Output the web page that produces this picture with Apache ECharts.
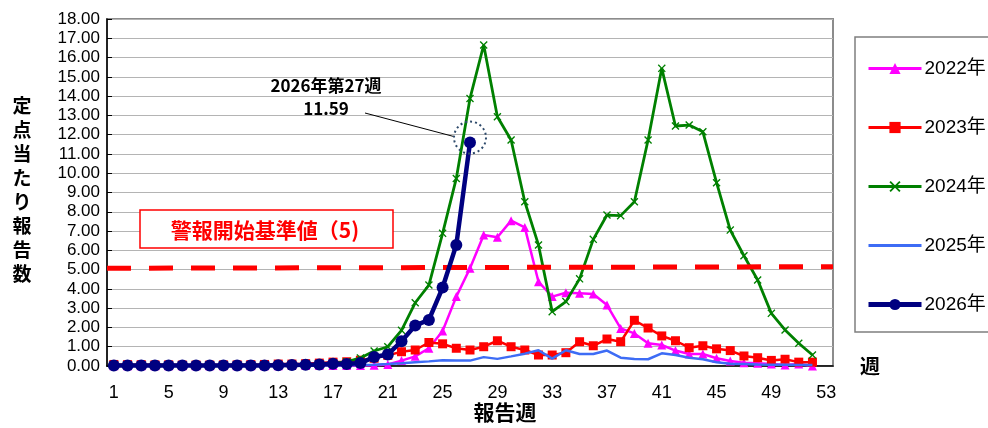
<!DOCTYPE html>
<html><head><meta charset="utf-8">
<script src="https://cdn.jsdelivr.net/npm/echarts@6/dist/echarts.min.js"></script>
<style>html,body{margin:0;padding:0;background:#fff}#c{width:988px;height:428px}</style>
</head><body><div id="c"></div>
<script>
// Categories: report weeks 1..53
const weeks = Array.from({length: 53}, (_, i) => String(i + 1));
const seriesNames = ['2022年', '2023年', '2024年', '2025年', '2026年'];

const data2022 = [0.01,0.01,0.01,0.01,0.01,0.01,0.01,0.01,0.01,0.01,0.01,0.01,0.01,0.02,0.02,0.02,0.02,0.03,0.03,0.04,
  0.08,0.28,0.5,0.92,1.82,3.6,5.07,6.8,6.68,7.54,7.19,4.37,3.6,3.8,3.77,3.73,3.16,1.95,1.69,1.18,1.09,0.8,0.62,0.62,0.4,0.26,0.17,0.14,0.1,0.05,0.1,0.0];
const data2023 = [0.08,0.07,0.07,0.06,0.06,0.05,0.05,0.05,0.06,0.06,0.07,0.08,0.1,0.1,0.12,0.15,
  0.2,0.22,0.3,0.4,0.55,0.74,0.83,1.22,1.15,0.92,0.83,1.0,1.31,1.0,0.83,0.57,0.57,0.69,1.26,1.05,1.4,1.26,2.37,1.97,1.56,1.31,0.95,1.05,0.89,0.8,0.52,0.43,0.29,0.35,0.2,0.2];
const data2024 = [0.05,0.05,0.04,0.04,0.04,0.03,0.03,0.03,0.03,0.04,0.04,0.05,0.06,0.07,0.08,0.1,0.14,0.22,
  0.42,0.78,1.0,1.85,3.28,4.2,6.88,9.73,13.88,16.65,12.93,11.72,8.52,6.28,2.82,3.34,4.52,6.57,7.83,7.8,8.52,11.72,15.44,12.45,12.5,12.15,9.51,7.05,5.72,4.46,2.73,1.87,1.18,0.57];
const data2025 = [0.03,0.03,0.03,0.02,0.02,0.02,0.02,0.02,0.02,0.02,0.02,0.02,0.02,0.02,0.03,0.03,0.03,0.04,0.05,
  0.07,0.1,0.14,0.2,0.24,0.3,0.28,0.28,0.46,0.37,0.5,0.64,0.82,0.38,0.82,0.62,0.62,0.8,0.43,0.36,0.35,0.66,0.57,0.43,0.35,0.19,0.12,0.1,0.08,0.07,0.06,0.05,0.05];
const data2026 = [0.03,0.03,0.03,0.03,0.03,0.03,0.03,0.03,0.03,0.03,0.03,0.03,0.04,0.05,0.06,0.08,0.12,0.1,0.15,
  0.47,0.6,1.28,2.1,2.39,4.07,6.28,11.59];
// Alert threshold line (spans plot edge to edge on a hidden 0..1 axis)
const thresholdLine = [[0, 5.07], [1, 5.15]];
const yTicksMax = 18;

const NUM = "'Liberation Sans Narrow','Arial Narrow','Liberation Sans',sans-serif";
const JP = "'Noto Sans CJK JP',sans-serif";
const XPATH = 'path://M0,1.2 L1.2,0 L5,3.8 L8.8,0 L10,1.2 L6.2,5 L10,8.8 L8.8,10 L5,6.2 L1.2,10 L0,8.8 L3.8,5 Z';
const colors = ['#ff00ff', '#ff0000', '#008000', '#3d6cf5', '#000080'];
const widths = [3, 3, 3, 3, 5];

function line(name, data, color, symbol, size, width, z) {
  return {
    type: 'line', name, data, symbol, symbolSize: size, showAllSymbol: true,
    lineStyle: {color, width}, itemStyle: {color}, z, clip: false,
    emphasis: {disabled: true}, silent: true
  };
}

const chart = echarts.init(document.getElementById('c'));
chart.setOption({
  animation: false,
  grid: {left: 107, right: 155, top: 19, bottom: 62, show: true, borderColor: '#8c8c8c', borderWidth: 2},
  xAxis: [
    {type: 'category', data: weeks, boundaryGap: true,
     axisLine: {lineStyle: {color: '#000', width: 1.5}},
     axisTick: {inside: true, interval: 0, length: 5, lineStyle: {color: '#000'}},
     axisLabel: {interval: 3, fontSize: 18, color: '#000', fontFamily: NUM, margin: 18},
     splitLine: {show: false}},
    {type: 'value', min: 0, max: 1, show: false}
  ],
  yAxis: {type: 'value', min: 0, max: yTicksMax, interval: 1,
    axisLine: {show: true, lineStyle: {color: '#000', width: 1.5}},
    axisTick: {show: true, inside: true, length: 5, lineStyle: {color: '#000'}},
    axisLabel: {formatter: v => v.toFixed(2), fontSize: 17, color: '#000', fontFamily: NUM, margin: 7},
    splitLine: {lineStyle: {color: '#b4b4b4', width: 1}}},
  legend: {
    data: seriesNames.map((n, i) => ({
      name: n,
      lineStyle: {width: widths[i], color: colors[i]},
      itemStyle: i === 3 ? {opacity: 0} : {color: colors[i]}
    })),
    orient: 'vertical', left: 855, top: 37,
    padding: [22, 60, 18, 11], itemGap: 40, itemWidth: 53, itemHeight: 14,
    borderColor: '#7f7f7f', borderWidth: 1.5, backgroundColor: '#fff',
    textStyle: {fontSize: 19, color: '#000', fontFamily: "'Liberation Sans','Noto Sans CJK JP',sans-serif", padding: [0, 0, 0, -2]}},
  series: [
    line(seriesNames[0], data2022, colors[0], 'triangle', 9, 2.5, 3),
    line(seriesNames[1], data2023, colors[1], 'rect', 9, 2.5, 4),
    line(seriesNames[2], data2024, colors[2], XPATH, 8, 2.8, 5),
    line(seriesNames[3], data2025, colors[3], 'none', 0, 2.5, 6),
    {type: 'line', name: 'threshold', xAxisIndex: 1, data: thresholdLine, symbol: 'none',
     lineStyle: {color: '#ff0000', width: 5, type: [24, 18]}, z: 7, silent: true},
    line(seriesNames[4], data2026, colors[4], 'circle', 12, 4.5, 9)
  ]
});

const p = chart.convertToPixel({xAxisIndex: 0, yAxisIndex: 0}, [26, data2026[26]]);
chart.setOption({
  graphic: [
    {type: 'rect', shape: {x: 140, y: 210, width: 253, height: 38}, style: {fill: '#fff', stroke: '#ff0000', lineWidth: 1.5}, z: 100},
    {type: 'text', x: 265, y: 230, style: {text: '警報開始基準値（5)', font: 'bold 21px ' + JP, fill: '#ff0000', align: 'center', verticalAlign: 'middle'}, z: 101},
    {type: 'text', x: 22, y: 190, style: {text: '定\n点\n当\nた\nり\n報\n告\n数', font: 'bold 19px ' + JP, lineHeight: 24, fill: '#000', align: 'center', verticalAlign: 'middle'}, z: 101},
    {type: 'text', x: 870, y: 366, style: {text: '週', font: 'bold 20px ' + JP, fill: '#000', align: 'center', verticalAlign: 'middle'}, z: 101},
    {type: 'text', x: 505, y: 412, style: {text: '報告週', font: 'bold 21px ' + JP, fill: '#000', align: 'center', verticalAlign: 'middle'}, z: 101},
    {type: 'text', x: 326, y: 86, style: {text: '2026年第27週', font: 'bold 17px ' + JP, fill: '#000', align: 'center', verticalAlign: 'middle'}, z: 101},
    {type: 'text', x: 326, y: 109, style: {text: String(data2026[26].toFixed(2)), font: 'bold 17px ' + JP, fill: '#000', align: 'center', verticalAlign: 'middle'}, z: 101},
    {type: 'line', shape: {x1: 365, y1: 113, x2: p[0] - 16, y2: p[1] - 6}, style: {stroke: '#000', lineWidth: 1}, z: 101},
    {type: 'circle', shape: {cx: p[0], cy: p[1] - 5, r: 16}, style: {fill: 'none', stroke: '#2e4a6b', lineWidth: 2, lineDash: [2, 3]}, z: 101}
  ]
});
</script>
</body></html>
